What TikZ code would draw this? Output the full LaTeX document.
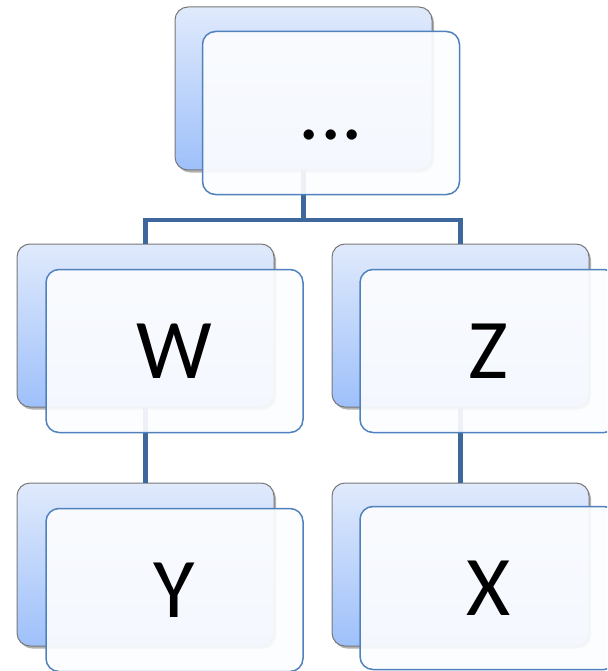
\documentclass[tikz,border=0pt]{standalone}
\usepackage{fontspec}
\setmainfont{Carlito}
\usetikzlibrary{shadows}

\definecolor{connblue}{RGB}{62,104,156}
\definecolor{frontedge}{RGB}{79,129,189}
\definecolor{backtop}{RGB}{224,234,252}
\definecolor{backbottom}{RGB}{158,192,250}
\definecolor{backedge}{RGB}{120,120,120}
\definecolor{frontfill}{RGB}{252,253,255}

\tikzset{
  backcard/.style={draw=backedge, line width=1pt, rounded corners=13pt,
    minimum width=257pt, minimum height=163pt, inner sep=0pt,
    top color=backtop, bottom color=backbottom,
    drop shadow={shadow xshift=2pt, shadow yshift=-2.5pt, opacity=0.5, fill=black!60}},
  frontcard/.style={draw=frontedge, line width=1.5pt, rounded corners=13pt,
    minimum width=257pt, minimum height=163pt, inner sep=0pt,
    fill=frontfill, fill opacity=0.92, text opacity=1,
    font=\fontsize{85}{90}\selectfont, text height=54pt, text depth=0pt},
  conn/.style={draw=connblue, line width=4.5pt}
}

\begin{document}
\begin{tikzpicture}[x=1pt, y=-1pt]
  \useasboundingbox (0,0) rectangle (607,671);
  \clip (0,0) rectangle (607,671);

  % back cards
  \node[backcard] (tb) at (303.5, 88.5) {};
  \node[backcard] (wb) at (145.5, 325.5) {};
  \node[backcard] (zb) at (460.5, 325.5) {};
  \node[backcard] (yb) at (145.5, 564.5) {};
  \node[backcard] (xb) at (460.5, 564.5) {};

  % connectors, drawn beneath the front cards
  \coordinate (j) at (303.5, 220);
  \draw[conn] (tb.south) -- (j);
  \draw[conn] (wb.north) |- (j) -| (zb.north);
  \draw[conn] (wb.south) -- (yb.north);
  \draw[conn] (zb.south) -- (xb.north);

  % front cards with labels
  \node[frontcard] (t) at (331, 113) {...};
  \node[frontcard] (w) at (174.5, 351) {W};
  \node[frontcard] (z) at (488.5, 351) {Z};
  \node[frontcard] (y) at (174.5, 590) {Y};
  \node[frontcard] (x) at (488.5, 588) {X};
\end{tikzpicture}
\end{document}
